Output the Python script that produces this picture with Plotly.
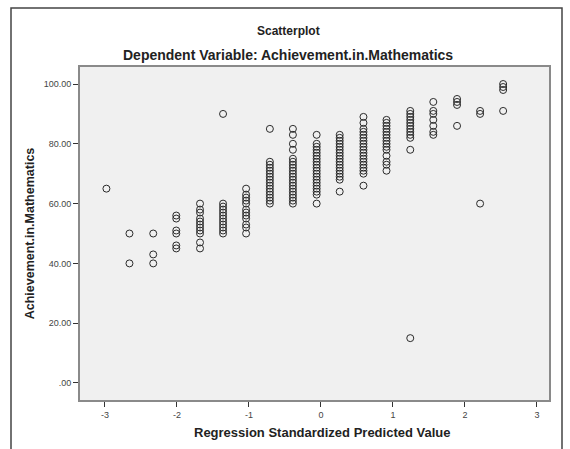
import plotly.graph_objects as go

# Regression standardized predicted value levels (x) and observed scores (y) at each level
pred_levels = [-2.98, -2.66, -2.33, -2.01, -1.68, -1.36, -1.04, -0.71, -0.39,
               -0.06, 0.26, 0.59, 0.91, 1.24, 1.56, 1.89, 2.21, 2.53]
scores_by_level = [
    [65],
    [50, 40],
    [50, 43, 40],
    [56, 55, 51, 50, 46, 45],
    [60, 58, 57, 55, 54, 53, 52, 51, 50, 47, 45],
    [90, 60, 59, 58, 57, 56, 55, 54, 53, 52, 51, 50],
    [65, 63, 62, 61, 60, 58, 57, 56, 55, 53, 52, 50],
    [85, 74, 73, 72, 71, 70, 69, 68, 67, 66, 65, 64, 63, 62, 61, 60],
    [85, 83, 80, 78, 75, 74, 73, 72, 71, 70, 69, 68, 67, 66, 65, 64, 63, 62, 61, 60],
    [83, 80, 79, 78, 77, 76, 75, 74, 73, 72, 71, 70, 69, 68, 67, 66, 65, 64, 63, 60],
    [83, 82, 81, 80, 79, 78, 77, 76, 75, 74, 73, 72, 71, 70, 69, 68, 64],
    [89, 87, 85, 84, 83, 82, 81, 80, 79, 78, 77, 76, 75, 74, 73, 72, 71, 70, 66],
    [88, 87, 86, 85, 84, 83, 82, 81, 80, 79, 78, 76, 74, 73, 71],
    [91, 90, 89, 88, 87, 86, 85, 84, 83, 82, 78, 15],
    [94, 91, 90, 88, 86, 84, 83],
    [95, 94, 93, 86],
    [91, 90, 60],
    [100, 99, 98, 91],
]
x_tick_vals = [-3, -2, -1, 0, 1, 2, 3]
x_tick_text = ["-3", "-2", "-1", "0", "1", "2", "3"]
y_tick_vals = [0, 20, 40, 60, 80, 100]
y_tick_text = [".00", "20.00", "40.00", "60.00", "80.00", "100.00"]

xs, ys = [], []
for lv, vals in zip(pred_levels, scores_by_level):
    for v in vals:
        xs.append(lv)
        ys.append(v)

fig = go.Figure(go.Scatter(
    x=xs, y=ys, mode="markers",
    marker=dict(symbol="circle-open", size=7, color="#2a2a2a", line=dict(width=1)),
    showlegend=False, hoverinfo="x+y",
))

W, H = 570, 449
L, R, T, B = 80, 549, 67, 400
pw, ph = R - L, B - T

def px(x):
    return (x - L) / pw

def py(y):
    return (B - y) / ph

fig.update_layout(
    width=W, height=H,
    margin=dict(l=L, r=W - R, t=T, b=H - B),
    paper_bgcolor="white",
    plot_bgcolor="#F0F0F0",
    font=dict(family="Liberation Sans, Arial, sans-serif", color="#222222"),
    xaxis=dict(
        range=[-3.347, 3.167], tickvals=x_tick_vals, ticktext=x_tick_text,
        ticks="outside", ticklen=5, tickcolor="#333", tickwidth=1,
        showgrid=False, zeroline=False, showline=True, linecolor="#8a8a8a", linewidth=2,
        mirror=True, tickfont=dict(size=9, color="#444"),
    ),
    yaxis=dict(
        range=[-5.69, 105.69], tickvals=y_tick_vals, ticktext=y_tick_text,
        ticks="outside", ticklen=5, tickcolor="#333", tickwidth=1,
        showgrid=False, zeroline=False, showline=True, linecolor="#8a8a8a", linewidth=2,
        mirror=True, tickfont=dict(size=9, color="#444"),
        title=dict(text="<b>Achievement.in.Mathematics</b>",
                   font=dict(size=12.5, color="#222"), standoff=6),
    ),
    annotations=[
        dict(text="<b>Scatterplot</b>", xref="paper", yref="paper",
             x=px(288), y=py(31), xanchor="center", yanchor="middle",
             showarrow=False, font=dict(size=12, color="#222")),
        dict(text="<b>Dependent Variable: Achievement.in.Mathematics</b>", xref="paper", yref="paper",
             x=px(288), y=py(55), xanchor="center", yanchor="middle",
             showarrow=False, font=dict(size=14, color="#222")),
        dict(text="<b>Regression Standardized Predicted Value</b>", xref="paper", yref="paper",
             x=px(322), y=py(432), xanchor="center", yanchor="middle",
             showarrow=False, font=dict(size=13, color="#222")),
    ],
    shapes=[
        dict(type="rect", xref="paper", yref="paper",
             x0=px(11), x1=px(562), y0=py(470), y1=py(8),
             line=dict(color="#444", width=1.5), fillcolor="rgba(0,0,0,0)", layer="below"),
    ],
)

fig.write_html("out.html")
